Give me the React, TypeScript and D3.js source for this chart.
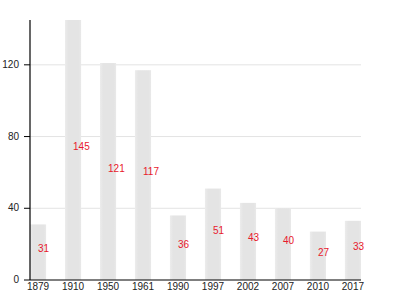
import React from "react";
import * as d3 from "d3";

const years = ["1879", "1910", "1950", "1961", "1990", "1997", "2002", "2007", "2010", "2017"];
const values = [31, 145, 121, 117, 36, 51, 43, 40, 27, 33];
const yTicks = [0, 40, 80, 120];

const W = 400;
const H = 300;
const left = 30;
const right = 361;
const top = 20;
const bottom = 280;

export default function App() {
  const x = d3.scaleBand<string>().domain(years).range([left, right]).paddingInner(0.54).paddingOuter(0).align(0);
  const y = d3.scaleLinear().domain([0, d3.max(values) as number]).range([bottom, top]);
  const font = "Liberation Sans, Arial, sans-serif";
  return (
    <svg width={W} height={H} style={{ position: "absolute", left: 0, top: 0, background: "#fff" }}>
      <defs>
        <linearGradient id="barg" x1="0" x2="1" y1="0" y2="0">
          <stop offset="0" stopColor="#ececec" />
          <stop offset="0.2" stopColor="#e4e4e4" />
          <stop offset="0.85" stopColor="#e4e4e4" />
          <stop offset="1" stopColor="#e9e9e9" />
        </linearGradient>
      </defs>
      {yTicks.filter((t) => t > 0).map((t) => (
        <line key={"g" + t} x1={left} x2={right} y1={y(t)} y2={y(t)} stroke="#e3e3e3" strokeWidth={1} />
      ))}
      {years.map((yr, i) => (
        <rect key={yr} x={x(yr)} y={y(values[i])} width={x.bandwidth()} height={y(0) - y(values[i])} fill="url(#barg)" />
      ))}
      {years.map((yr, i) => (
        <text key={"l" + yr} x={(x(yr) as number) + x.bandwidth() / 2} y={(y(values[i]) + y(0)) / 2}
          fill="#e8192c" fontSize={10} fontFamily={font} textAnchor="start">
          {values[i]}
        </text>
      ))}
      <line x1={left} x2={left} y1={top} y2={bottom} stroke="#000" strokeWidth={1.2} />
      <line x1={left} x2={right} y1={bottom} y2={bottom} stroke="#000" strokeWidth={1.2} />
      {yTicks.map((t) => (
        <g key={"t" + t}>
          <line x1={left - 6} x2={left} y1={y(t)} y2={y(t)} stroke="#000" strokeWidth={1} />
          <text x={left - 11} y={y(t)} dy="0.32em" textAnchor="end" fontSize={10} fontFamily={font} fill="#222">
            {t}
          </text>
        </g>
      ))}
      {years.map((yr) => (
        <text key={"x" + yr} x={(x(yr) as number) + x.bandwidth() / 2} y={bottom + 3} dy="0.71em"
          textAnchor="middle" fontSize={10} fontFamily={font} fill="#222">
          {yr}
        </text>
      ))}
    </svg>
  );
}
